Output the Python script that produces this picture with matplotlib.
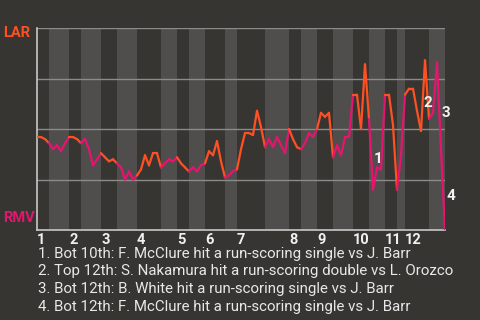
import numpy as np
import matplotlib.pyplot as plt
from matplotlib.collections import LineCollection

# win probability (LAR %) after each plate appearance
win_prob = [46, 46, 45, 43, 40, 42, 39, 43, 46, 46, 45, 43, 45, 40, 32, 35, 38,
            36, 34, 35, 33, 31, 25, 29, 25, 27, 30, 37, 32, 38, 38, 31, 33, 35,
            34, 36, 33, 31, 29, 31, 29, 32, 33, 39, 37, 44, 34, 26, 27, 29, 30,
            40, 48, 48, 47, 59, 51, 41, 45, 41, 46, 42, 38, 50, 45, 41, 40, 43,
            48, 46, 50, 58, 56, 58, 36, 42, 37, 46, 46, 67, 67, 50, 82, 55, 20,
            31, 30, 67, 67, 52, 20, 37, 67, 70, 70, 59, 49, 84, 55, 58, 83, 40, 0]

# plate appearance index where each half inning starts (top 1st, bot 1st, ...)
half_starts = [0, 3, 8, 11, 16, 20, 25, 31, 35, 38, 42, 47, 50, 57, 63, 66,
               70, 74, 79, 83, 87, 90, 92, 98, 102]
innings = [str(i) for i in range(1, 13)]

events = [
    "1. Bot 10th: F. McClure hit a run-scoring single vs J. Barr",
    "2. Top 12th: S. Nakamura hit a run-scoring double vs L. Orozco",
    "3. Bot 12th: B. White hit a run-scoring single vs J. Barr",
    "4. Bot 12th: F. McClure hit a run-scoring single vs J. Barr",
]
# marker label positions (PA index, win prob)
marks = [("1", 85.2, 35), ("2", 97.8, 63), ("3", 102.3, 58), ("4", 103.5, 17)]

bg = '#373532'
orange = '#ff5024'
pink = '#e6146e'

plt.rcParams['font.family'] = ['Roboto', 'DejaVu Sans']
fig = plt.figure(figsize=(4.8, 3.2), dpi=100, facecolor=bg)
ax = fig.add_axes([37 / 480, 1 - 230 / 320, 408 / 480, 202 / 320])
ax.set_facecolor(bg)

# shade bottom halves
for i in range(1, len(half_starts) - 1, 2):
    ax.axvspan(half_starts[i], half_starts[i + 1], color='#4f4e4d', lw=0, zorder=0)

for y in [25, 50, 75, 100]:
    ax.axhline(y, color='#8c8b89', lw=1, zorder=1)

# colour each segment by which team is batting
x = np.arange(len(win_prob))
segs = []
cols = []
for k in range(len(win_prob) - 1):
    segs.append([(x[k], win_prob[k]), (x[k + 1], win_prob[k + 1])])
    half = np.searchsorted(half_starts, k, side='right') - 1
    cols.append(orange if half % 2 == 0 else pink)
ax.add_collection(LineCollection(segs, colors=cols, linewidths=1.6, zorder=3,
                                 capstyle='round', joinstyle='round'))

ax.set_xlim(0, 102)
ax.set_ylim(0, 100)
for s in ['top', 'right']:
    ax.spines[s].set_visible(False)
for s in ['left', 'bottom']:
    ax.spines[s].set_color('#c8c8c8')
    ax.spines[s].set_linewidth(1.2)
ax.set_yticks([])
ax.set_xticks(half_starts[0:-1:2])
ax.set_xticklabels(innings, ha='left', color='#f0f0f0', fontsize=10.5,
                   fontweight='bold')
ax.tick_params(axis='x', length=0, pad=2.5)

for txt, xx, yy in marks:
    ax.text(xx, yy, txt, color='#f2f2f2', fontsize=11, fontweight='bold',
            ha='center', va='center', clip_on=False, zorder=5)

fig.text(3 / 480, 1 - 33 / 320, "LAR", color=orange, fontsize=10.5,
         fontweight='bold', va='center')
fig.text(3 / 480, 1 - 218 / 320, "RMV", color=pink, fontsize=10.5,
         fontweight='bold', va='center')

for i, line in enumerate(events):
    fig.text(38 / 480, 1 - (254 + 17.5 * i) / 320, line, color='#e8e8e8',
             fontsize=10.8, va='center')

fig.savefig('out.png', dpi=100, facecolor=bg)
